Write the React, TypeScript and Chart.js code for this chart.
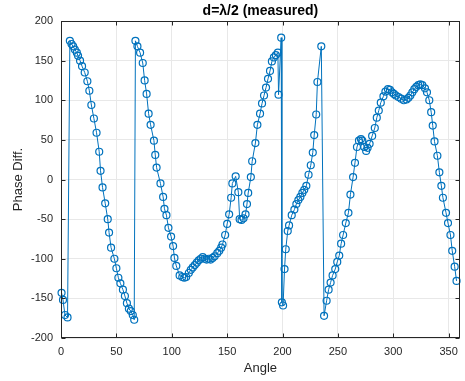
import React, { useEffect, useRef } from 'react';
import { Chart, registerables } from 'chart.js';

Chart.register(...registerables);

const angles = [
  0.5, 1.8, 3.6, 5.9, 8.0, 9.5, 11.0, 12.5, 14.3, 15.4, 17.2, 19.0, 21.4, 23.8,
  25.6, 27.4, 29.7, 32.1, 34.5, 35.7, 37.5, 39.9, 42.2, 43.4, 45.2, 48.2, 50.0,
  51.8, 53.6, 55.9, 57.7, 59.5, 61.3, 63.0, 64.8, 66.1, 67.2, 69.0, 71.4, 73.8,
  75.5, 77.3, 79.1, 80.9, 83.9, 85.1, 86.3, 89.8, 92.2, 93.4, 95.2, 97.0, 99.4,
  101.2, 102.4, 104.1, 107.1,
  109.5, 111.3, 113.0, 115.4, 117.2, 119.0, 120.8, 122.6, 124.4, 126.2, 128.0,
  129.7, 131.5, 133.3, 135.1, 136.9, 138.7, 141.1, 142.9, 144.6, 145.8, 148.2,
  150.0, 151.8, 153.6, 154.7, 157.7, 160.1, 161.3, 163.0, 164.8, 166.6, 167.9,
  169.0, 171.4, 172.6, 175.5, 177.3, 179.7, 181.5, 183.3, 185.1, 186.9, 188.7,
  190.4, 192.2, 194.0, 195.8, 196.4, 198.8, 199.4, 200.5, 201.8, 202.9, 204.7,
  205.9, 208.3, 210.7, 212.5, 214.3, 216.1, 217.9, 219.6, 221.5, 223.5, 225.5,
  227.3, 228.6, 230.4, 231.5, 235.0,
  237.5, 239.8, 241.6, 243.4, 245.2, 247.6, 249.4, 251.2, 252.9, 254.7, 257.1,
  259.5, 261.3, 263.7, 265.4, 267.2, 269.0, 270.8, 272.0, 273.8, 275.5, 276.8,
  278.6, 280.9, 283.3, 285.1, 286.9, 288.7, 291.1, 292.9, 295.2, 297.0, 298.8,
  300.5, 302.3, 304.7, 307.1, 309.5, 311.9, 313.7, 315.4, 317.2, 319.0, 320.8,
  322.6, 324.4, 326.2, 328.6, 330.4, 332.5, 334.2, 335.6, 337.2, 339.8, 341.6,
  343.4, 344.8, 347.6, 349.4, 351.6, 353.2, 355.4, 357.1,
];

const phaseDiff = [
  -143, -152, -171, -174, 175, 171, 168, 164, 160, 156, 150, 143, 135, 124,
  112, 94, 77, 59, 35, 11, -10, -30, -50, -67, -86, -100, -112,
  -124, -131, -139, -147, -156, -163, -166, -171, -177, 175, 168, 160, 147,
  125, 108, 83, 69, 49, 31, 15, -5, -22, -37, -45, -61, -72,
  -84, -99, -109, -121,
  -123, -124, -123, -118, -114, -111, -108, -105, -102, -100, -98,
  -100, -101, -100, -101, -99, -97, -93, -90, -86, -82, -70,
  -56, -44, -23, -5, 4, -16, -50, -51, -49, -44, -31,
  -17, 3, 23, 46, 69, 83, 96, 106, 116, 127, 137,
  149, 154, 157, 160, 107, 179, -155, -159, -113, -88, -65,
  -58, -45, -38, -31, -26, -22, -17, -13, -8, 6, 18,
  34, 56, 82, 123, 168,
  -172, -153, -139, -130, -121, -113, -104, -96, -81, -70, -55,
  -42, -19, 3, 21, 41, 49, 51, 49, 41, 36, 40,
  45, 55, 65, 78, 87, 97, 105, 111, 114, 113, 110,
  108, 106, 104, 102, 100, 101, 103, 106, 110, 114, 117,
  119, 120, 119, 115, 110, 100, 85, 68, 48, 30, 9,
  -8, -23, -42, -55, -70, -90, -110, -128,
];

const xTicks = [0, 50, 100, 150, 200, 250, 300, 350];
const yTicks = [-200, -150, -100, -50, 0, 50, 100, 150, 200];
const xRange = [0, 360];
const yRange = [-200, 200];
const titleText = 'd=\u03bb/2 (measured)';
const xLabel = 'Angle';
const yLabel = 'Phase Diff.';

const FONT = '"Liberation Sans", Arial, Helvetica, sans-serif';
const TEXT = '#262626';
const BLUE = '#0072BD';

const matlabPlugin = {
  id: 'matlabAxes',
  afterDraw(chart: any) {
    const { ctx, chartArea: a, scales } = chart;
    ctx.save();
    ctx.strokeStyle = '#262626';
    ctx.lineWidth = 1;
    const l = Math.round(a.left) + 0.5;
    const r = Math.round(a.right) - 0.5;
    const t = Math.round(a.top) + 0.5;
    const b = Math.round(a.bottom) - 0.5;
    ctx.strokeRect(l, t, r - l, b - t);
    const len = 4;
    ctx.beginPath();
    xTicks.forEach((v) => {
      const x = Math.round(scales.x.getPixelForValue(v)) + 0.5;
      ctx.moveTo(x, b);
      ctx.lineTo(x, b - len);
      ctx.moveTo(x, t);
      ctx.lineTo(x, t + len);
    });
    yTicks.forEach((v) => {
      const y = Math.round(scales.y.getPixelForValue(v)) + 0.5;
      ctx.moveTo(l, y);
      ctx.lineTo(l + len, y);
      ctx.moveTo(r, y);
      ctx.lineTo(r - len, y);
    });
    ctx.stroke();
    ctx.fillStyle = '#000000';
    ctx.font = `bold 14px ${FONT}`;
    ctx.textAlign = 'center';
    ctx.textBaseline = 'middle';
    ctx.fillText(titleText, (a.left + a.right) / 2, 11);
    ctx.restore();
  },
};

export default function App() {
  const ref = useRef<HTMLCanvasElement | null>(null);

  useEffect(() => {
    if (!ref.current) return;
    const points = angles.map((x, i) => ({ x, y: phaseDiff[i] }));
    const chart = new Chart(ref.current, {
      type: 'scatter',
      data: {
        datasets: [
          {
            data: points,
            showLine: true,
            borderColor: BLUE,
            borderWidth: 1,
            pointRadius: 3.5,
            pointBorderWidth: 1.2,
            pointBorderColor: BLUE,
            pointBackgroundColor: 'rgba(0,0,0,0)',
            pointStyle: 'circle',
            tension: 0,
            clip: 6,
          },
        ],
      },
      options: {
        animation: false,
        responsive: false,
        devicePixelRatio: 1,
        layout: { padding: { left: 0, right: 1, top: 21, bottom: 0 } },
        plugins: {
          legend: { display: false },
          tooltip: { enabled: false },
          title: { display: false },
        },
        scales: {
          x: {
            type: 'linear',
            min: xRange[0],
            max: xRange[1],
            afterBuildTicks: (s: any) => {
              s.ticks = xTicks.map((v) => ({ value: v }));
            },
            afterFit: (s: any) => {
              s.height = 43;
            },
            grid: { color: '#e8e8e8', drawTicks: false, lineWidth: 1 },
            border: { display: false },
            ticks: {
              padding: 7,
              autoSkip: false,
              maxRotation: 0,
              color: TEXT,
              font: { family: FONT, size: 11 },
            },
            title: {
              display: true,
              text: xLabel,
              color: TEXT,
              font: { family: FONT, size: 13 },
              padding: { top: 0, bottom: 5 },
            },
          },
          y: {
            type: 'linear',
            min: yRange[0],
            max: yRange[1],
            afterBuildTicks: (s: any) => {
              s.ticks = yTicks.map((v) => ({ value: v }));
            },
            afterFit: (s: any) => {
              s.width = 61;
            },
            grid: { color: '#e8e8e8', drawTicks: false, lineWidth: 1 },
            border: { display: false },
            ticks: {
              padding: 8,
              autoSkip: false,
              color: TEXT,
              font: { family: FONT, size: 11 },
            },
            title: {
              display: true,
              text: yLabel,
              color: TEXT,
              font: { family: FONT, size: 13 },
              padding: { top: 11, bottom: 0 },
            },
          },
        },
      },
      plugins: [matlabPlugin],
    });
    return () => chart.destroy();
  }, []);

  return (
    <div style={{ position: 'absolute', left: 0, top: 0, width: 465, height: 381, background: '#ffffff' }}>
      <canvas ref={ref} width={465} height={381} style={{ width: 465, height: 381, display: 'block' }} />
    </div>
  );
}
